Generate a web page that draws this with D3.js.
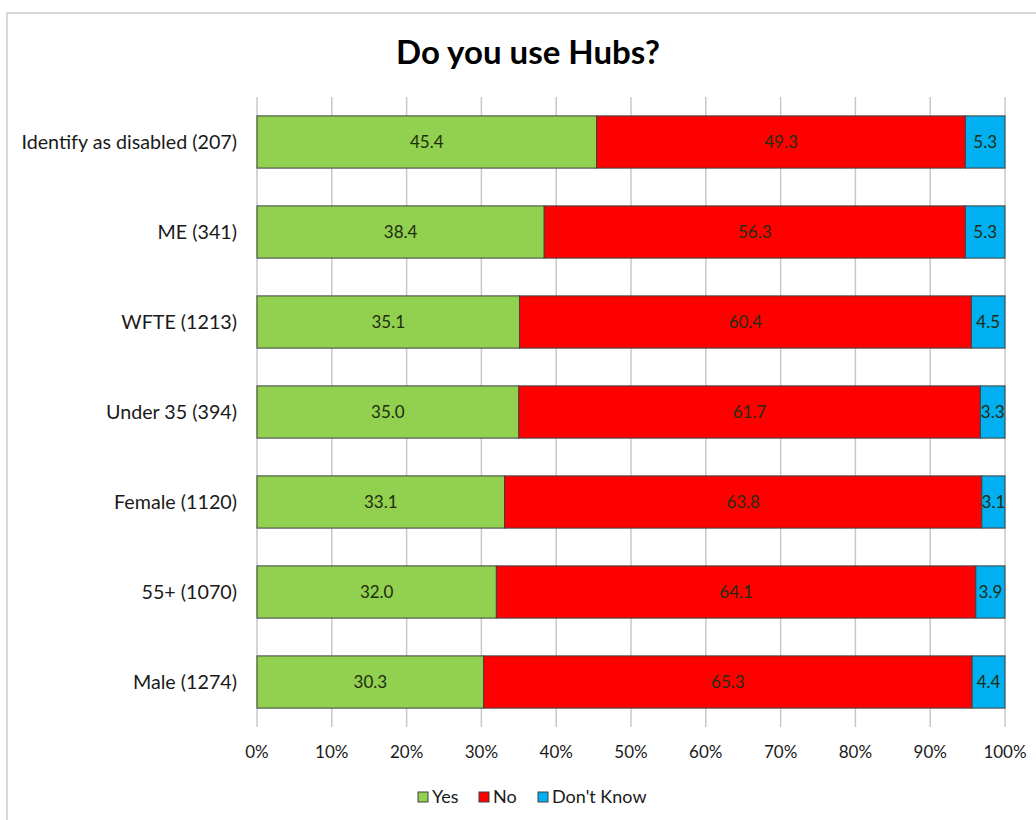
<!DOCTYPE html>
<html><head><meta charset="utf-8">
<script src="https://cdn.jsdelivr.net/npm/d3@7"></script>
<style>body{margin:0;background:#fff;} svg{display:block;}</style>
</head><body>
<svg id="c" width="1036" height="820"></svg>
<script>
const categories = ["Identify as disabled (207)","ME (341)","WFTE (1213)","Under 35 (394)","Female (1120)","55+ (1070)","Male (1274)"];
const seriesNames = ["Yes","No","Don't Know"];
const yesValues = [45.4,38.4,35.1,35.0,33.1,32.0,30.3];
const noValues = [49.3,56.3,60.4,61.7,63.8,64.1,65.3];
const dkValues = [5.3,5.3,4.5,3.3,3.1,3.9,4.4];
const tickValues = [0,10,20,30,40,50,60,70,80,90,100];
const colors = ["#92d050","#ff0000","#00b0f0"];
const FONT = "Lato, 'Open Sans', sans-serif";

const svg = d3.select("#c");
svg.append("rect").attr("x",7).attr("y",13).attr("width",1040).attr("height",820)
  .attr("fill","#fff").attr("stroke","#d9d9d9").attr("stroke-width",2);

svg.append("text").attr("x",528).attr("y",64).attr("text-anchor","middle")
  .attr("font-family",FONT).attr("font-weight","bold").attr("font-size",33).attr("fill","#000")
  .text("Do you use Hubs?");

const x = d3.scaleLinear().domain([0,100]).range([257,1005]);
const y = d3.scaleBand().domain(categories).range([97,727]).paddingInner(0.42).paddingOuter(0.21);

// gridlines
svg.append("g").selectAll("line").data(tickValues).join("line")
  .attr("x1",d=>x(d)).attr("x2",d=>x(d)).attr("y1",97).attr("y2",727)
  .attr("stroke","#c8c8c8").attr("stroke-width",1.5);

const rows = categories.map((c,i)=>({cat:c, vals:[yesValues[i],noValues[i],dkValues[i]]}));
const segs = [];
rows.forEach(r=>{ let s=0; r.vals.forEach((v,k)=>{ segs.push({cat:r.cat,k,x0:s,x1:s+v,v}); s+=v; }); });

const g = svg.append("g");
g.selectAll("rect").data(segs).join("rect")
  .attr("x",d=>x(d.x0)).attr("width",d=>x(Math.min(d.x1,100))-x(d.x0))
  .attr("y",d=>y(d.cat)).attr("height",y.bandwidth())
  .attr("fill",d=>colors[d.k]).attr("stroke","#404040").attr("stroke-width",1);

g.selectAll("text").data(segs).join("text")
  .attr("x",d=>x((d.x0+Math.min(d.x1,100))/2)).attr("y",d=>y(d.cat)+y.bandwidth()/2)
  .attr("dy","0.35em").attr("text-anchor","middle")
  .attr("font-family",FONT).attr("font-size",17).attr("fill","#1f2d0f")
  .text(d=>d.v.toFixed(1));

// category labels
svg.append("g").selectAll("text").data(categories).join("text")
  .attr("x",237).attr("y",d=>y(d)+y.bandwidth()/2).attr("dy","0.35em")
  .attr("text-anchor","end").attr("font-family",FONT).attr("font-size",19.7).attr("fill","#1a1a1a")
  .text(d=>d);

// x tick labels
svg.append("g").selectAll("text").data(tickValues).join("text")
  .attr("x",d=>x(d)).attr("y",758).attr("text-anchor","middle")
  .attr("font-family",FONT).attr("font-size",17).attr("fill","#1a1a1a")
  .text(d=>d+"%");

// legend
const legX = [418,479,538];
const lg = svg.append("g").selectAll("g").data(seriesNames).join("g")
  .attr("transform",(d,i)=>`translate(${legX[i]},792)`);
lg.append("rect").attr("width",10).attr("height",10).attr("fill",(d,i)=>colors[i]).attr("stroke","#404040");
lg.append("text").attr("x",14).attr("y",5).attr("dy","0.35em").attr("font-family",FONT)
  .attr("font-size",18).attr("fill","#1a1a1a").text(d=>d);
</script>
</body></html>
